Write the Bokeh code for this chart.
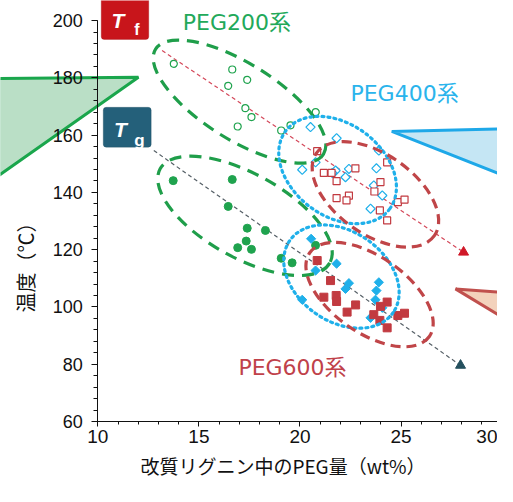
import numpy as np
from bokeh.plotting import figure
from bokeh.models import Range1d, FixedTicker, Label, BoxAnnotation
from bokeh.embed import file_html
from bokeh.resources import INLINE

# ---------------- data ----------------
peg200_tf_x = [13.76, 16.65, 17.39, 16.45, 17.30, 17.60, 16.92, 19.07, 19.53, 20.78]
peg200_tf_y = [184.9, 182.9, 179.3, 177.2, 169.4, 166.3, 163.0, 161.6, 163.4, 168.0]
peg200_tg_x = [13.73, 16.65, 16.45, 17.39, 18.29, 17.34, 16.92, 17.60, 19.07, 19.61, 20.77]
peg200_tg_y = [144.1, 144.5, 135.1, 127.5, 126.7, 123.0, 120.7, 120.1, 117.0, 115.4, 121.5]
peg400_tf_x = [20.52, 21.81, 20.77, 20.11, 21.76, 22.42, 22.25, 23.78, 23.90, 23.65, 24.07, 23.49, 21.60]
peg400_tf_y = [162.8, 158.9, 150.5, 147.9, 147.6, 148.2, 145.3, 148.4, 154.6, 142.4, 138.9, 134.3, 146.8]
peg400_tg_x = [20.55, 20.77, 21.81, 22.42, 22.25, 20.11, 23.90, 23.78, 23.73, 24.07, 23.49]
peg400_tg_y = [123.8, 112.7, 115.1, 108.3, 106.3, 102.5, 108.6, 105.7, 102.5, 99.7, 96.2]
peg600_tf_x = [20.85, 21.18, 21.56, 22.74, 21.81, 21.81, 22.42, 22.30, 24.31, 23.98, 23.68, 23.95, 24.31, 24.84, 25.17]
peg600_tf_y = [154.4, 146.8, 146.8, 148.4, 143.9, 138.0, 138.9, 137.2, 150.5, 143.6, 140.3, 133.7, 130.2, 136.6, 137.5]
peg600_tg_x = [20.85, 21.51, 21.18, 21.79, 21.81, 22.75, 22.33, 24.31, 23.98, 23.65, 23.95, 24.31, 24.84, 25.17]
peg600_tg_y = [116.2, 109.2, 103.4, 104.0, 101.9, 100.7, 98.2, 101.7, 100.2, 97.3, 95.3, 92.7, 97.0, 97.8]

tf_trend_x = [13.18, 28.09]
tf_trend_y = [189.5, 119.1]
tg_trend_x = [12.77, 27.94]
tg_trend_y = [154.6, 79.6]

x_ticks = [10, 15, 20, 25, 30]
y_ticks = [60, 80, 100, 120, 140, 160, 180, 200]

series_labels = ["PEG200系", "PEG400系", "PEG600系"]
x_title = "改質リグニン中のPEG量（wt%）"
y_title = "温度（℃）"

# group ellipses: centre x, centre y (data), axes (px), angle (deg)
ell_x = [17.01, 17.28, 21.86, 22.05, 23.73, 23.44]
ell_y = [171.7, 131.8, 147.8, 110.6, 139.3, 104.3]
ell_w = [198, 194, 130, 126, 144, 146]
ell_h = [76, 84, 92, 90, 80, 76]
ell_a = [-32, -29, -37, -35, -35, -35]

# ---------------- figure ----------------
GREEN = "#1fa34e"
CYAN = "#1fb0ea"
RED = "#c23a40"

X0, X1 = 5.188, 29.768
Y0, Y1 = 37.3, 207.0

p = figure(width=497, height=486,
           x_range=Range1d(X0, X1), y_range=Range1d(Y0, Y1),
           output_backend="svg", toolbar_location=None, min_border=0,
           background_fill_color="white", border_fill_color="white")
p.outline_line_color = None
p.grid.visible = False

for ax in (p.xaxis[0], p.yaxis[0]):
    ax.axis_line_color = "#111111"
    ax.major_tick_line_color = "#111111"
    ax.minor_tick_line_color = "#111111"
    ax.major_tick_in = 0
    ax.minor_tick_in = 0
    ax.major_label_text_font = "Liberation Sans"
    ax.major_label_text_color = "#111111"

p.xaxis.fixed_location = 60
p.yaxis.fixed_location = 10
p.xaxis.bounds = (10, 30)
p.yaxis.bounds = (60, 200)
p.xaxis.ticker = FixedTicker(ticks=x_ticks, minor_ticks=list(range(10, 31)))
p.yaxis.ticker = FixedTicker(ticks=y_ticks, minor_ticks=list(range(60, 201, 4)))
p.xaxis.major_tick_out = 5
p.xaxis.minor_tick_out = 3
p.yaxis.major_tick_out = 6
p.yaxis.minor_tick_out = 4
p.xaxis.major_label_text_font_size = "19px"
p.yaxis.major_label_text_font_size = "18px"
p.xaxis.major_label_standoff = 4
p.yaxis.major_label_standoff = 9

# last x tick label sits at the canvas edge: keep it as right-aligned text
p.add_layout(Label(x=X1, y=60, y_offset=-9, text=str(x_ticks[-1]),
                   text_font="Liberation Sans", text_font_size="19px",
                   text_color="#111111", text_align="right", text_baseline="top"))

# callout shapes (decoration)
p.patch([5.1, 12.01, 5.1], [179.8, 180.2, 145.9], fill_color="#b3dbc0", fill_alpha=0.9,
        line_color="#1aa64c", line_width=3)
p.patch([24.54, 30.7, 30.7], [161.3, 162.3, 144.1], fill_color="#bfe3f3", fill_alpha=0.9,
        line_color="#1ea8e8", line_width=3)
p.patch([27.69, 30.7, 30.7], [106.3, 104.7, 93.5], fill_color="#f2cdb5", fill_alpha=0.9,
        line_color="#c0504d", line_width=3)

# trend lines
p.line(tf_trend_x, tf_trend_y, line_color="#d4485a", line_width=1.2, line_dash="4 3")
p.line(tg_trend_x, tg_trend_y, line_color="#555f66", line_width=1.2, line_dash="4 3")
p.scatter(tf_trend_x[1:], tf_trend_y[1:], marker="triangle", size=10, color="#d01828")
p.scatter(tg_trend_x[1:], tg_trend_y[1:], marker="triangle", size=10, color="#24505e")

# points
p.scatter(peg200_tf_x, peg200_tf_y, marker="circle", size=7, fill_color="white",
          line_color=GREEN, line_width=1.2)
p.scatter(peg200_tg_x, peg200_tg_y, marker="circle", size=8, color=GREEN)
p.scatter(peg400_tf_x, peg400_tf_y, marker="square", angle=np.pi / 4, size=6.5,
          fill_color="white", line_color=CYAN, line_width=1.2)
p.scatter(peg400_tg_x, peg400_tg_y, marker="square", angle=np.pi / 4, size=6.5, color=CYAN)
p.scatter(peg600_tf_x, peg600_tf_y, marker="square", size=7, fill_color="white",
          line_color=RED, line_width=1.2)
p.scatter(peg600_tg_x, peg600_tg_y, marker="square", size=8, color=RED)

# group ellipses
ell_colors = ["#1f9e4a", "#1f9e4a", "#1fb0ea", "#1fb0ea", "#c04548", "#c04548"]
ell_dash = ["12 8", "12 8", "2 4", "2 4", "10 6", "10 6"]
for i in range(6):
    p.ellipse(x=[ell_x[i]], y=[ell_y[i]], width=[ell_w[i]], height=[ell_h[i]],
              angle=[np.deg2rad(ell_a[i])], width_units="screen", height_units="screen",
              fill_color=None, line_color=ell_colors[i], line_width=3.2,
              line_dash=ell_dash[i], line_cap="round" if i in (2, 3) else "butt")

# Tf / Tg badges
p.add_layout(BoxAnnotation(left=10.17, right=12.52, bottom=193.4, top=208.0,
                           fill_color="#c8151b", fill_alpha=1, line_color="#9a1015",
                           border_radius=3, level="annotation"))
p.add_layout(BoxAnnotation(left=10.27, right=12.64, bottom=155.8, top=169.7,
                           fill_color="#24607a", fill_alpha=1, line_color="#1a4858",
                           border_radius=3, level="annotation"))
for (tx, ty, t, fs) in [(11.00, 200.0, "T", "21px"), (11.94, 196.9, "f", "16px"),
                        (11.12, 162.0, "T", "21px"), (12.06, 158.2, "g", "17px")]:
    p.add_layout(Label(x=tx, y=ty, text=t, text_font="Liberation Sans",
                       text_font_style="bold italic" if t == "T" else "bold",
                       text_font_size=fs, text_color="white",
                       text_align="center", text_baseline="middle"))

# series labels
for (tx, ty, t, c) in [(16.88, 199.3, series_labels[0], "#22a95a"),
                       (25.17, 174.5, series_labels[1], "#2ab4ec"),
                       (19.63, 78.9, series_labels[2], "#c0414a")]:
    p.add_layout(Label(x=tx, y=ty, text=t, text_font="DejaVu Sans, Noto Sans CJK JP",
                       text_font_size="22px", text_color=c,
                       text_align="center", text_baseline="middle"))

# axis titles
p.add_layout(Label(x=19.16, y=44.8, text=x_title, text_font="Noto Sans CJK JP",
                   text_font_size="19px", text_color="#111111",
                   text_align="center", text_baseline="middle"))
p.add_layout(Label(x=6.43, y=115.5, text=y_title, text_font="Noto Sans CJK JP",
                   text_font_size="20px", text_color="#111111", angle=np.pi / 2,
                   text_align="center", text_baseline="middle"))

open("out.html", "w").write(file_html(p, INLINE))
